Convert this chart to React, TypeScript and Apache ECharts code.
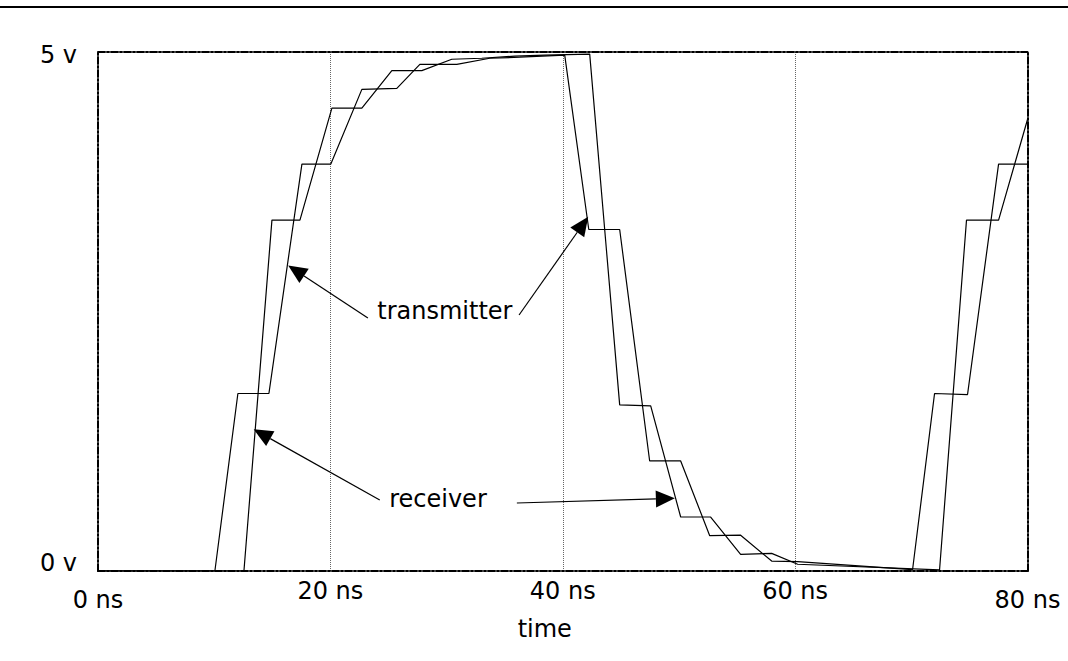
import React, { useEffect, useRef } from "react";
import * as echarts from "echarts";

// time in ns, voltage in V
const txTime = [0, 10.06, 12.04, 14.71, 17.55, 20.04, 22.71, 25.72, 27.7, 30.88, 33.72, 36.3, 40.17, 42.24, 44.9, 47.48, 50.15, 52.65, 55.31, 57.98, 60.22, 70.11, 72.0, 74.84, 77.51, 80];
const txVolt = [0, 0, 1.71, 1.71, 3.92, 3.92, 4.64, 4.65, 4.88, 4.88, 4.94, 4.95, 4.97, 3.29, 3.29, 1.06, 1.06, 0.34, 0.345, 0.096, 0.09, 0.014, 1.71, 1.7, 3.92, 3.92];

const rxTime = [0, 12.56, 14.97, 17.38, 20.13, 22.71, 25.29, 27.87, 30.45, 33.03, 35.87, 38.45, 42.32, 44.9, 47.57, 50.15, 52.73, 55.31, 57.98, 60.22, 72.43, 74.75, 77.51, 80];
const rxVolt = [0, 0, 3.38, 3.38, 4.46, 4.46, 4.82, 4.82, 4.93, 4.94, 4.96, 4.97, 4.98, 1.6, 1.59, 0.52, 0.52, 0.16, 0.17, 0.065, 0.01, 3.38, 3.38, 4.35];

const xTicks = [0, 20, 40, 60, 80];
const yTicks = [0, 5];

// annotation arrows: [tailT, tailV, tipT, tipV]
const arrows = [
  [23.23, 2.437, 16.37, 2.943],
  [36.24, 2.466, 42.19, 3.413],
  [24.25, 0.684, 13.4, 1.365],
  [36.05, 0.655, 49.65, 0.7],
];
const annoLabels = ["transmitter", "receiver"];
const annoPos = [
  [29.85, 2.505],
  [29.26, 0.694],
];

const FONT = "DejaVu Sans";

export default function App() {
  const ref = useRef<HTMLDivElement>(null);
  useEffect(() => {
    document.body.style.margin = "0";
    const chart = echarts.init(ref.current!, undefined, { renderer: "svg" });
    const border = { color: "#000", width: 2, type: [7, 2, 2, 2] as any };
    const zip = (a: number[], b: number[]) => a.map((t, i) => [t, b[i]]);
    chart.setOption({
      animation: false,
      backgroundColor: "#fff",
      textStyle: { fontFamily: FONT },
      grid: { left: 98, right: 40.5, top: 52, bottom: 90 },
      xAxis: [
        {
          type: "value",
          min: xTicks[0],
          max: xTicks[xTicks.length - 1],
          interval: 20,
          position: "bottom",
          axisLine: { show: true, onZero: false, lineStyle: border },
          axisTick: { show: false },
          splitLine: {
            show: true,
            showMinLine: false,
            showMaxLine: false,
            lineStyle: { type: "dotted", color: "#666", width: 1 },
          },
          axisLabel: {
            margin: 8,
            color: "#000",
            fontSize: 24,
            fontFamily: FONT,
            formatter: (v: number) =>
              v === xTicks[0] || v === xTicks[xTicks.length - 1]
                ? `{lo|${v} ns}`
                : `{n|${v} ns}`,
            rich: {
              lo: { fontSize: 24, fontFamily: FONT, color: "#000", padding: [9, 0, 0, 0] },
              n: { fontSize: 24, fontFamily: FONT, color: "#000" },
            },
          },
          name: "time",
          nameLocation: "middle",
          nameGap: 45,
          nameTextStyle: { fontSize: 24, fontFamily: FONT, color: "#000", padding: [0, 36, 0, 0] },
        },
        {
          type: "value",
          min: 0,
          max: 80,
          position: "top",
          axisLine: { show: true, onZero: false, lineStyle: border },
          axisTick: { show: false },
          axisLabel: { show: false },
          splitLine: { show: false },
        },
      ],
      yAxis: [
        {
          type: "value",
          min: yTicks[0],
          max: yTicks[1],
          interval: 5,
          position: "left",
          axisLine: { show: true, onZero: false, lineStyle: border },
          axisTick: { show: false },
          splitLine: { show: false },
          axisLabel: {
            margin: 21,
            color: "#000",
            fontSize: 24,
            fontFamily: FONT,
            formatter: (v: number) => (v === 0 ? `{lo|${v} v}` : `{hi|${v} v}`),
            rich: {
              lo: { fontSize: 24, fontFamily: FONT, color: "#000", padding: [0, 0, 16, 0] },
              hi: { fontSize: 24, fontFamily: FONT, color: "#000", padding: [6, 0, 0, 0] },
            },
          },
        },
        {
          type: "value",
          min: 0,
          max: 5,
          position: "right",
          axisLine: { show: true, onZero: false, lineStyle: border },
          axisTick: { show: false },
          axisLabel: { show: false },
          splitLine: { show: false },
        },
      ],
      series: [
        {
          name: "transmitter",
          type: "line",
          data: zip(txTime, txVolt),
          showSymbol: false,
          lineStyle: { color: "#000", width: 1.2 },
          z: 5,
        },
        {
          name: "receiver",
          type: "line",
          data: zip(rxTime, rxVolt),
          showSymbol: false,
          lineStyle: { color: "#000", width: 1.2 },
          z: 5,
        },
      ],
    });

    const px = (t: number, v: number) =>
      chart.convertToPixel({ xAxisIndex: 0, yAxisIndex: 0 }, [t, v]) as number[];
    const graphics: any[] = [
      { type: "rect", shape: { x: 0, y: 6, width: 1068, height: 2 }, style: { fill: "#000" } },
    ];
    arrows.forEach(([t0, v0, t1, v1]) => {
      const a = px(t0, v0);
      const b = px(t1, v1);
      const dx = b[0] - a[0];
      const dy = b[1] - a[1];
      const len = Math.sqrt(dx * dx + dy * dy);
      const ux = dx / len;
      const uy = dy / len;
      const L = 19;
      const W = 8.5;
      const bx = b[0] - ux * L;
      const by = b[1] - uy * L;
      graphics.push({
        type: "line",
        shape: { x1: a[0], y1: a[1], x2: bx, y2: by },
        style: { stroke: "#000", lineWidth: 1.2 },
        z: 10,
      });
      graphics.push({
        type: "polygon",
        shape: {
          points: [
            [b[0], b[1]],
            [bx - uy * W, by + ux * W],
            [bx + uy * W, by - ux * W],
          ],
        },
        style: { fill: "#000" },
        z: 10,
      });
    });
    annoLabels.forEach((s, i) => {
      const p = px(annoPos[i][0], annoPos[i][1]);
      graphics.push({
        type: "text",
        x: p[0],
        y: p[1],
        style: {
          text: s,
          fontSize: 24,
          fontFamily: FONT,
          fill: "#000",
          align: "center",
          verticalAlign: "middle",
        },
        z: 10,
      });
    });
    chart.setOption({ graphic: graphics });
    return () => chart.dispose();
  }, []);
  return <div ref={ref} style={{ width: 1068, height: 661 }} />;
}
